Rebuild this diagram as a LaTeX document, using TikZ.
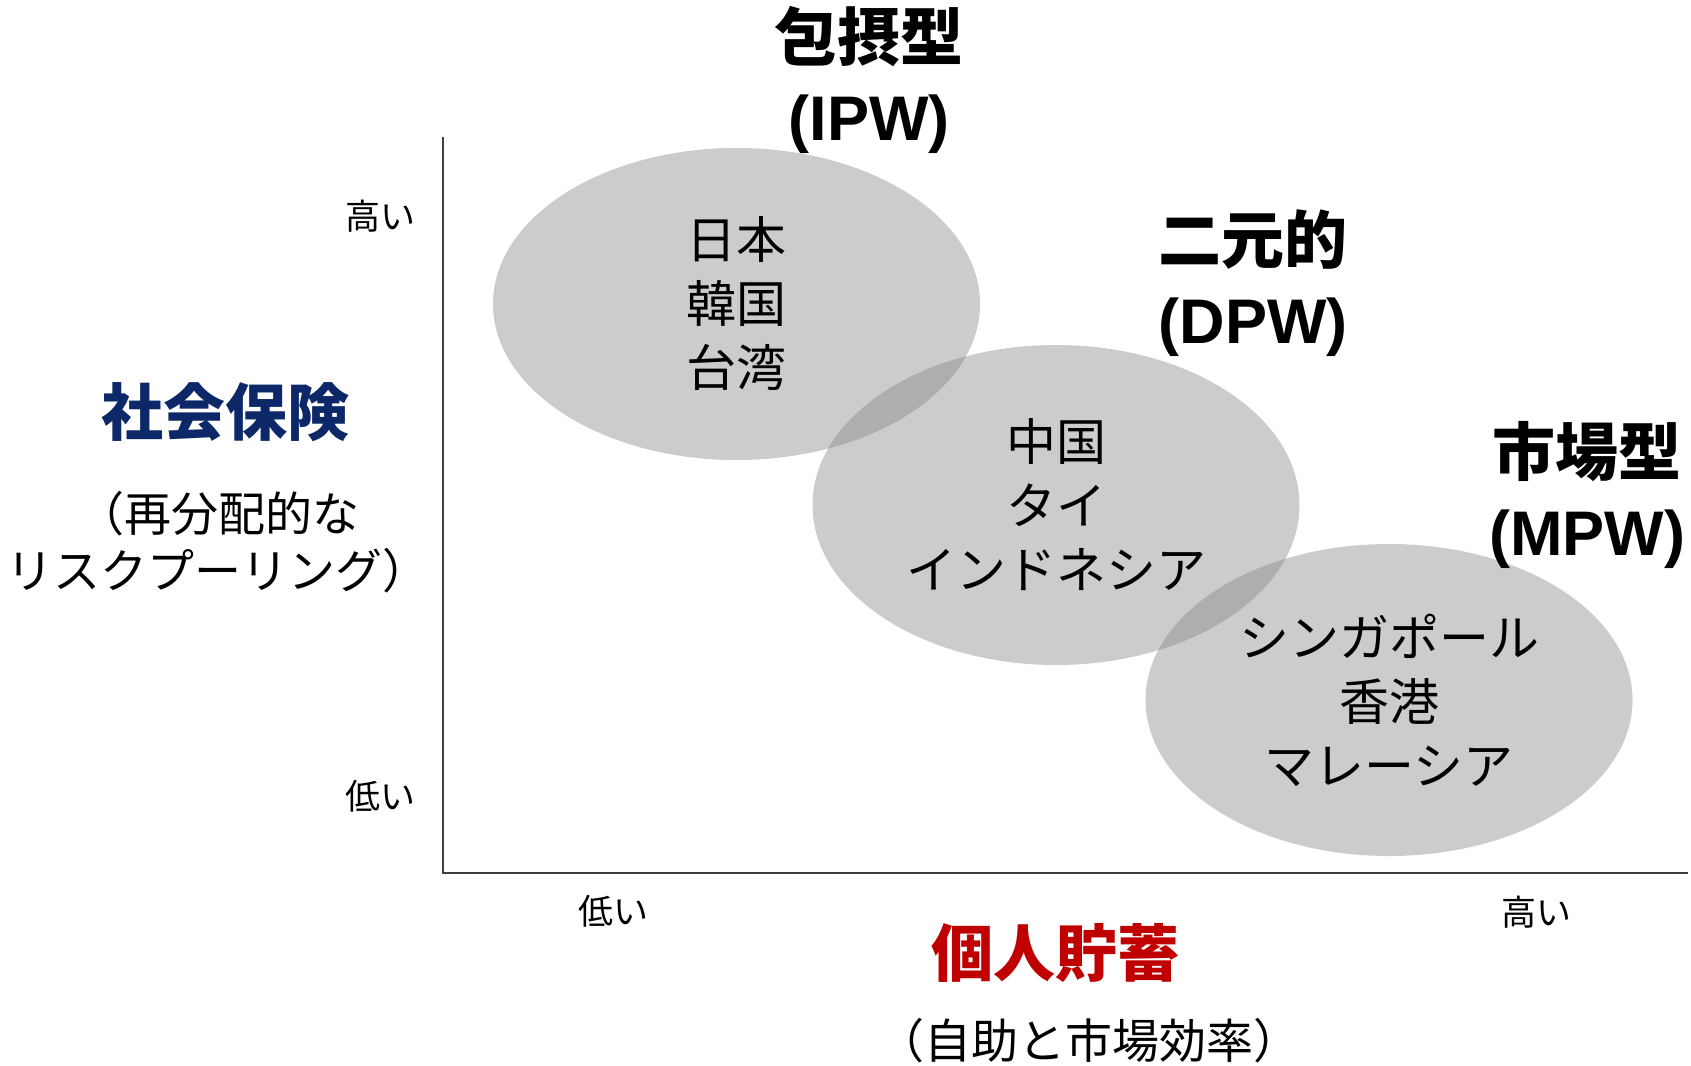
\documentclass[tikz,border=0pt]{standalone}
\usepackage{fontspec}
\setmainfont{Liberation Sans}
\newfontfamily\jp{Noto Sans CJK JP}
\usetikzlibrary{shapes.geometric}
\definecolor{navy}{RGB}{12,40,104}
\definecolor{darkred}{RGB}{192,0,0}
\tikzset{
  blob/.style={ellipse, fill=black!50, fill opacity=0.4, text opacity=1,
    minimum width=487pt, minimum height=312pt, inner sep=0pt, align=center,
    font=\jp\fontsize{50}{64}\selectfont},
  title/.style={align=center, font=\bfseries\fontsize{63}{80}\selectfont},
  tick/.style={font=\jp\fontsize{35}{40}\selectfont},
  axislabel/.style={font=\jp\bfseries\fontsize{62}{70}\selectfont},
  sublabel/.style={align=center, font=\jp\fontsize{47}{57}\selectfont},
  axis/.style={line width=2pt, draw=black!75}
}
\begin{document}
\begin{tikzpicture}[x=1pt,y=-1pt]
\useasboundingbox (0,0) rectangle (1691,1065);
% axes
\coordinate (o) at (443,873);
\coordinate (ytop) at (443,137);
\coordinate (xend) at (1688,873);
\draw[axis] (ytop) -- (o) -- (xend);
% ellipses
\node[blob] (e1) at (736.5,304) {日本\\韓国\\台湾};
\node[blob, minimum height=320pt] (e2) at (1056,505) {中国\\タイ\\インドネシア};
\node[blob] (e3) at (1389,700) {シンガポール\\香港\\マレーシア};
% titles
\node[title] (t1) at (869,79.5) {{\jp 包摂型}\\(IPW)};
\node[title] (t2) at (1253,283.5) {{\jp 二元的}\\(DPW)};
\node[title] (t3) at (1587,494.5) {{\jp 市場型}\\(MPW)};
% ticks
\node[tick] (yhi) at (380,216) {高い};
\node[tick] (ylo) at (380,796) {低い};
\node[tick] (xlo) at (613,911) {低い};
\node[tick] (xhi) at (1536,912) {高い};
% axis labels
\node[axislabel, text=navy] (ylab) at (225,412) {社会保険};
\node[sublabel] (ysub) at (218,542.5) {（再分配的な\\リスクプーリング）};
\node[axislabel, text=darkred] (xlab) at (1055,953) {個人貯蓄};
\node[sublabel] (xsub) at (1089,1041) {（自助と市場効率）};
\end{tikzpicture}
\end{document}
